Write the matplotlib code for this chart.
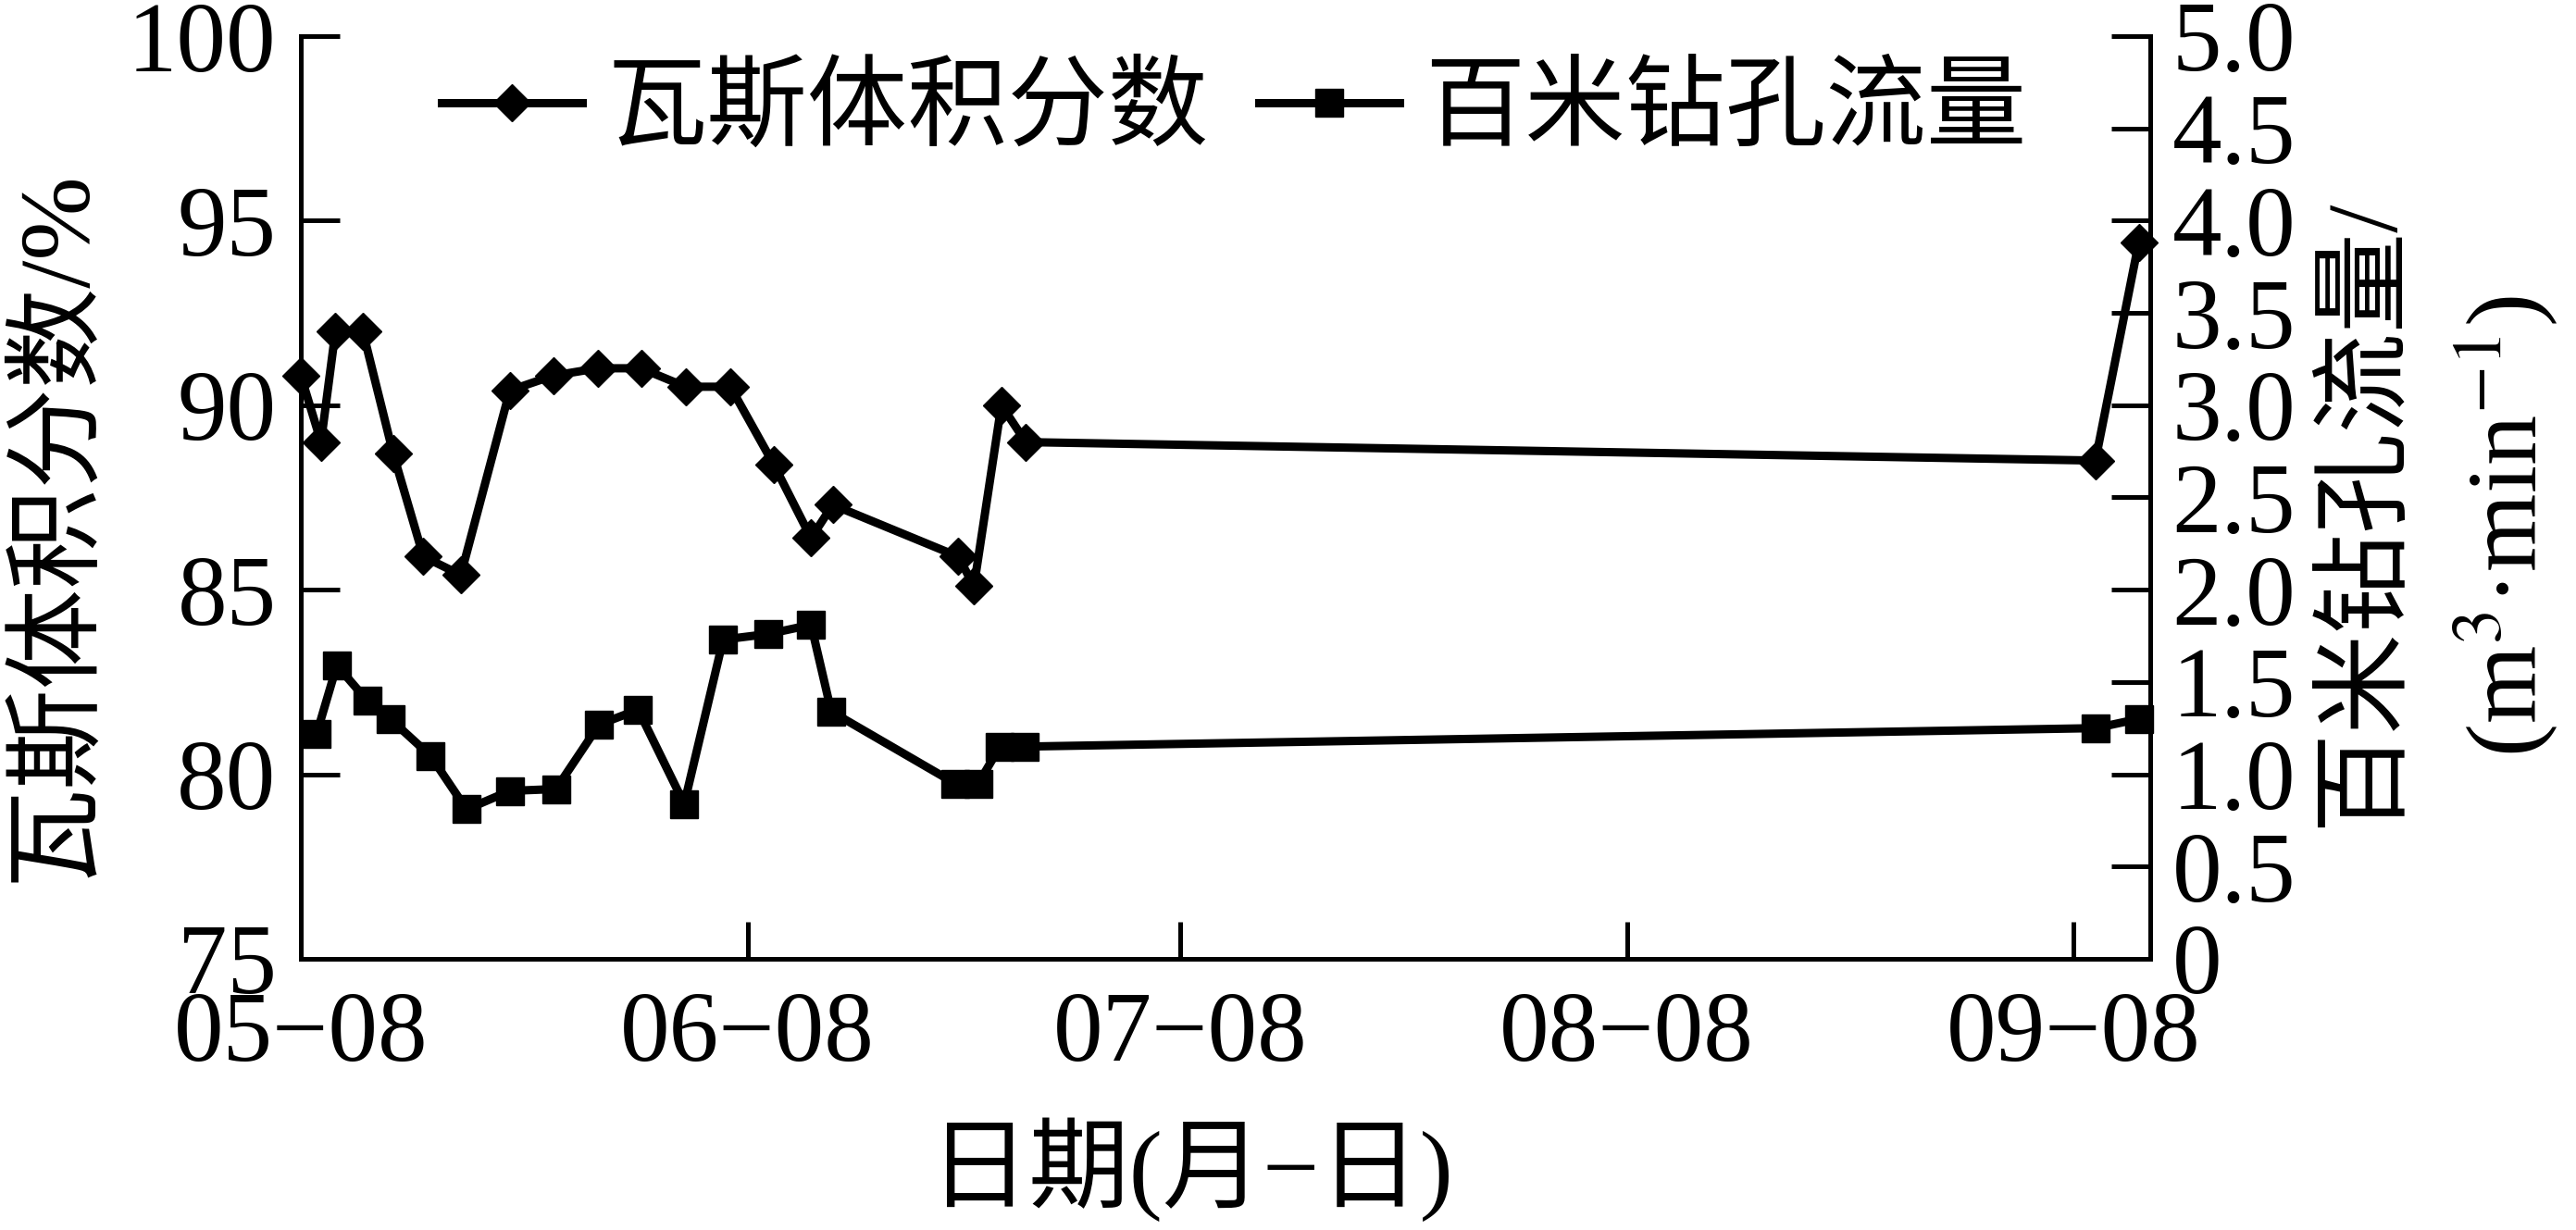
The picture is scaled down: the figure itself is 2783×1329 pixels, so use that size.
import matplotlib
matplotlib.use('Agg')
import matplotlib.pyplot as plt
from matplotlib.lines import Line2D

plt.rcParams['font.family'] = ['Liberation Serif', 'Noto Sans CJK SC']
plt.rcParams['mathtext.fontset'] = 'stix'
plt.rcParams['axes.unicode_minus'] = False

# days counted from 05-08
gas_day = [0, 1.4, 2.4, 4.3, 6.4, 8.5, 11.1, 14.5, 17.5, 20.6, 23.6, 26.7, 29.8,
           32.8, 35.4, 36.9, 45.6, 46.7, 48.6, 50.3, 124.5, 127.5]
gas = [90.8, 89.0, 92.0, 92.0, 88.7, 85.9, 85.4, 90.4, 90.8, 91.0, 91.0, 90.5, 90.5,
       88.4, 86.4, 87.3, 85.9, 85.1, 90.0, 89.0, 88.5, 94.4]

flow_day = [1.1, 2.5, 4.6, 6.2, 9.0, 11.5, 14.5, 17.7, 20.7, 23.4, 26.6, 29.3, 32.4,
            35.4, 36.8, 45.4, 47.0, 48.5, 50.2, 124.5, 127.5]
flow = [1.22, 1.59, 1.40, 1.30, 1.10, 0.81, 0.91, 0.92, 1.27, 1.35, 0.84, 1.73, 1.76,
        1.81, 1.34, 0.95, 0.95, 1.15, 1.15, 1.25, 1.30]

tick_days = [0, 31, 61, 92, 123]
tick_labels = ['05−08', '06−08', '07−08', '08−08', '09−08']
gas_ticks = [75, 80, 85, 90, 95, 100]
flow_ticks = [0, 0.5, 1.0, 1.5, 2.0, 2.5, 3.0, 3.5, 4.0, 4.5, 5.0]
flow_tick_labels = ['0', '0.5', '1.0', '1.5', '2.0', '2.5', '3.0', '3.5', '4.0', '4.5', '5.0']
legend_labels = ['瓦斯体积分数', '百米钻孔流量']

W, H = 2783, 1329
fig = plt.figure(figsize=(W / 100, H / 100), dpi=100)
ax = fig.add_axes([325 / W, 1 - 1036 / H, (2323 - 325) / W, (1036 - 39) / H])
ax2 = ax.twinx()

ax.plot(gas_day, gas, color='k', lw=6.5, marker='D', ms=20, clip_on=False)
ax2.plot(flow_day, flow, color='k', lw=6.5, marker='s', ms=21, clip_on=False)

ax.set_xlim(0, 128.3)
ax.set_ylim(75, 100)
ax2.set_ylim(0, 5)
ax.set_xticks(tick_days)
ax.set_xticklabels(tick_labels)
ax.set_yticks(gas_ticks)
ax2.set_yticks(flow_ticks)
ax2.set_yticklabels(flow_tick_labels)

for a in (ax, ax2):
    a.spines['top'].set_visible(False)
    for s in a.spines.values():
        s.set_linewidth(3.6)
ax2.spines['left'].set_visible(False)

ax.tick_params(axis='y', direction='in', length=30, width=3.6, labelsize=77, pad=19)
ax.tick_params(axis='x', direction='in', length=29, width=3.6, labelsize=77, pad=25)
ax2.tick_params(axis='y', direction='in', length=30, width=3.6, labelsize=77, pad=17)

handles = [Line2D([], [], color='k', lw=6.5, marker='D', ms=20),
           Line2D([], [], color='k', lw=6.5, marker='s', ms=21)]
ax2.legend(handles, legend_labels, loc='center', bbox_to_anchor=(0.5045, 0.918),
           ncol=2, frameon=False, fontsize=78, handlelength=1.4, handletextpad=0.25,
           columnspacing=0.5, borderaxespad=0, borderpad=0)

fig.text(62 / W, 1 - 568 / H, '瓦斯体积分数/%', rotation=90, ha='center', va='center', fontsize=78)
fig.text(2556 / W, 1 - 554 / H, '百米钻孔流量/', rotation=90, ha='center', va='center', fontsize=78)
fig.text(2707 / W, 1 - 568 / H, '(m$^{3}$·min$^{-1}$)', rotation=90, ha='center', va='center', fontsize=78)
fig.text(1287 / W, 1 - 1264 / H, '日期(月−日)', ha='center', va='center', fontsize=78)

fig.savefig('out.png', dpi=100)
